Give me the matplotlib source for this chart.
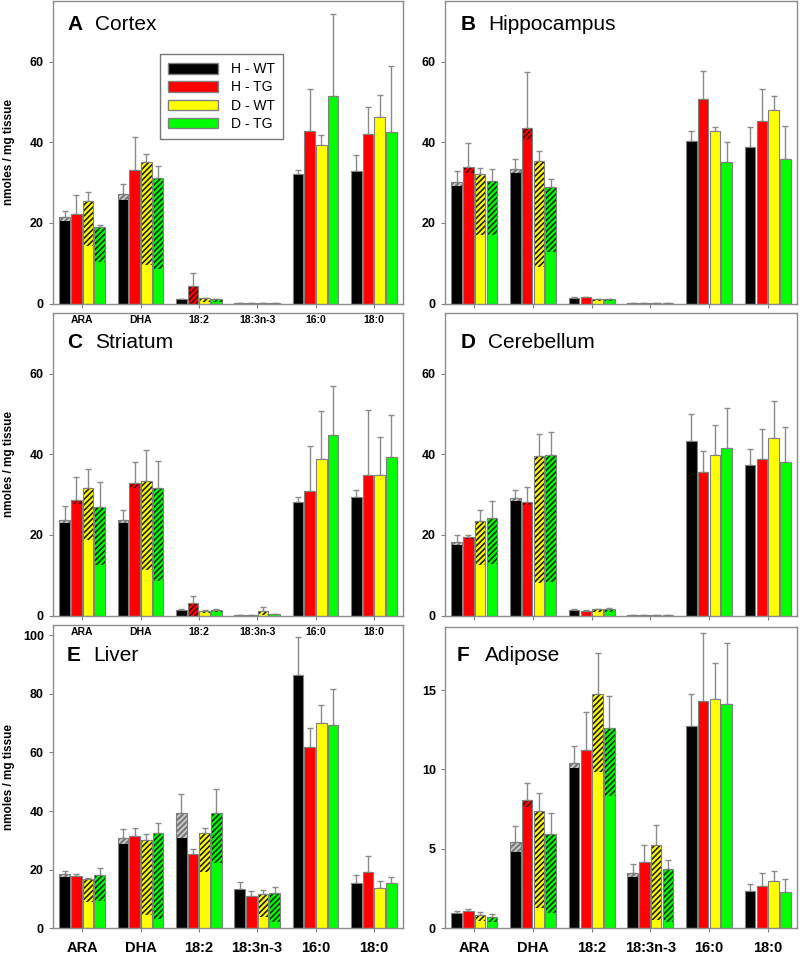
import numpy as np
import matplotlib
matplotlib.use("Agg")
import matplotlib.pyplot as plt
from matplotlib.patches import Patch

plt.rcParams['font.family'] = ['Liberation Sans', 'DejaVu Sans']
plt.rcParams['hatch.linewidth'] = 1.2

categories = ['ARA', 'DHA', '18:2', '18:3n-3', '16:0', '18:0']
groups = ['H - WT', 'H - TG', 'D - WT', 'D - TG']
colors = ['#000000', '#ff0000', '#ffff00', '#00ff00']
hatch_face = ['#7a7a7a', '#ff0000', '#ffff00', '#00ff00']
hatch_line = ['#d0d0d0', '#500000', '#202000', '#003000']

# rows = H-WT, H-TG, D-WT, D-TG ; "solid" = unhatched lower part of the bar
cortex_mean = [[21.5, 27.1, 1.1, 0.15, 32.2, 32.8],
               [22.2, 33.2, 4.4, 0.15, 42.7, 42.1],
               [25.4, 35.1, 1.3, 0.15, 39.3, 46.2],
               [19.0, 31.1, 1.1, 0.15, 51.4, 42.6]]
cortex_solid = [[20.4, 25.6, 1.1, 0.15, 32.2, 32.8],
                [22.2, 33.2, 0.0, 0.15, 42.7, 42.1],
                [14.2, 9.5, 0.4, 0.15, 39.3, 46.2],
                [10.4, 8.5, 0.4, 0.15, 51.4, 42.6]]
cortex_sd = [[1.4, 2.6, 0, 0, 0.8, 4.0],
             [4.8, 8.0, 3.2, 0, 10.4, 6.6],
             [2.2, 1.9, 0, 0, 2.4, 5.5],
             [0.4, 2.9, 0, 0, 20.3, 16.2]]

hippo_mean = [[30.2, 33.4, 1.4, 0.1, 40.2, 38.8],
              [33.9, 43.5, 1.5, 0.1, 50.7, 45.3],
              [32.0, 35.4, 1.0, 0.1, 42.7, 47.9],
              [30.3, 28.9, 1.0, 0.1, 35.1, 35.9]]
hippo_solid = [[29.1, 32.4, 1.4, 0.1, 40.2, 38.8],
               [32.3, 40.5, 1.5, 0.1, 50.7, 45.3],
               [17.1, 9.0, 0.5, 0.1, 42.7, 47.9],
               [17.1, 12.8, 0.5, 0.1, 35.1, 35.9]]
hippo_sd = [[2.6, 2.5, 0.1, 0, 2.5, 4.9],
            [5.8, 13.9, 0.1, 0, 6.9, 7.8],
            [1.5, 2.3, 0.1, 0, 1.0, 3.5],
            [3.0, 2.0, 0.1, 0, 5.0, 8.1]]

striatum_mean = [[23.8, 23.7, 1.4, 0.1, 28.2, 29.5],
                 [28.7, 32.8, 3.1, 0.1, 30.8, 34.9],
                 [31.5, 33.4, 1.1, 1.0, 38.9, 34.8],
                 [26.8, 31.7, 1.3, 0.3, 44.7, 39.4]]
striatum_solid = [[22.9, 22.9, 1.2, 0.1, 28.2, 29.5],
                  [27.7, 31.5, 0.0, 0.1, 30.8, 34.9],
                  [18.8, 11.3, 0.5, 0.2, 38.9, 34.8],
                  [12.6, 8.6, 0.8, 0.3, 44.7, 39.4]]
striatum_sd = [[3.4, 2.5, 0.2, 0, 1.1, 1.7],
               [5.6, 5.2, 1.8, 0, 11.2, 16.0],
               [4.9, 7.7, 0.2, 1.0, 11.8, 9.4],
               [6.2, 6.6, 0.2, 0, 12.2, 10.2]]

cereb_mean = [[18.1, 29.2, 1.4, 0.1, 43.2, 37.3],
              [19.4, 28.1, 1.2, 0.1, 35.6, 38.7],
              [23.4, 39.5, 1.6, 0.1, 39.8, 44.1],
              [24.1, 39.8, 1.7, 0.1, 41.5, 38.0]]
cereb_solid = [[17.5, 28.5, 1.4, 0.1, 43.2, 37.3],
               [19.0, 27.3, 1.2, 0.1, 35.6, 38.7],
               [12.6, 8.0, 0.8, 0.1, 39.8, 44.1],
               [12.8, 8.4, 0.8, 0.1, 41.5, 38.0]]
cereb_sd = [[1.8, 1.9, 0.1, 0, 6.8, 4.0],
            [0.6, 3.8, 0.1, 0, 5.2, 7.6],
            [2.8, 5.4, 0.1, 0, 7.4, 9.1],
            [4.2, 5.8, 0.2, 0, 9.9, 8.8]]

liver_mean = [[18.4, 30.8, 39.5, 13.5, 86.5, 15.6],
              [17.7, 31.6, 25.3, 11.0, 61.9, 19.3],
              [16.9, 30.2, 32.5, 11.6, 69.9, 13.6],
              [18.3, 32.4, 39.3, 11.9, 69.3, 15.3]]
liver_solid = [[17.6, 28.9, 30.8, 13.5, 86.5, 15.6],
               [17.7, 31.6, 25.3, 11.0, 61.9, 19.3],
               [9.0, 4.4, 19.3, 4.0, 69.9, 13.6],
               [9.4, 3.1, 22.3, 2.0, 69.3, 15.3]]
liver_sd = [[1.2, 3.2, 6.5, 2.4, 12.9, 2.6],
            [0.9, 2.6, 1.8, 1.8, 6.3, 5.4],
            [0.3, 2.0, 1.6, 1.5, 6.2, 2.7],
            [2.4, 3.6, 8.4, 2.2, 12.2, 2.3]]

adipose_mean = [[0.94, 5.41, 10.38, 3.46, 12.73, 2.35],
                [1.07, 8.07, 11.22, 4.15, 14.32, 2.66],
                [0.86, 7.38, 14.72, 5.24, 14.42, 2.98],
                [0.73, 5.95, 12.63, 3.71, 14.09, 2.31]]
adipose_solid = [[0.88, 4.82, 10.07, 3.21, 12.73, 2.35],
                 [1.07, 7.65, 11.22, 4.15, 14.32, 2.66],
                 [0.48, 1.26, 9.82, 0.52, 14.42, 2.98],
                 [0.42, 0.98, 8.33, 0.38, 14.09, 2.31]]
adipose_sd = [[0.15, 1.05, 1.09, 0.59, 2.01, 0.44],
              [0.13, 1.05, 2.41, 1.07, 4.28, 0.80],
              [0.17, 1.11, 2.62, 1.26, 2.29, 0.65],
              [0.17, 1.33, 2.01, 0.59, 3.88, 0.79]]

W, H = 800, 956
fig = plt.figure(figsize=(W / 100, H / 100), dpi=100)


def rect(l, r, t, b):
    return [l / W, 1 - b / H, (r - l) / W, (b - t) / H]


def panel(box, letter, name, mean, solid, sd, ymax, yticks, title_pos,
          xlabels=None, xsize=7.5, ylabel=False):
    ax = fig.add_axes(rect(*box))
    ax.set_facecolor('none')
    x = np.arange(len(categories))
    offsets = [-0.3, -0.1, 0.1, 0.3]
    w = 0.18
    for g in range(4):
        m = np.array(mean[g])
        s = np.array(solid[g])
        xs = x + offsets[g]
        ax.errorbar(xs, m, yerr=[np.zeros(6), sd[g]], fmt='none', ecolor='#8a8a8a',
                    elinewidth=1, capsize=2.5, capthick=1, zorder=1)
        ax.bar(xs, s, w, color=colors[g], edgecolor='none', linewidth=0, zorder=2)
        ax.bar(xs, m - s, w, bottom=s, color=hatch_face[g], edgecolor=hatch_line[g],
               linewidth=0, hatch='//////', zorder=2)
        ax.bar(xs, m, w, facecolor='none', edgecolor='#808080', linewidth=0.8, zorder=3)
    ax.set_xlim(-0.5, 5.5)
    ax.set_ylim(0, ymax)
    ax.set_yticks(yticks)
    ax.set_yticklabels([str(t) for t in yticks], fontsize=9, fontweight='bold')
    ax.set_xticks(x)
    if xlabels:
        ax.set_xticklabels(categories, fontsize=xsize, fontweight='bold')
    else:
        ax.set_xticklabels([])
    ax.tick_params(axis='both', direction='out', length=3, color='#808080', width=0.8)
    ax.tick_params(axis='x', pad=5 if xsize < 9 else 6)
    for sp in ax.spines.values():
        sp.set_color('#8c8c8c')
        sp.set_linewidth(1)
    ax.text(title_pos[0], title_pos[2], letter, transform=ax.transAxes,
            fontsize=15, fontweight='bold', va='top')
    ax.text(title_pos[1], title_pos[2], name, transform=ax.transAxes,
            fontsize=15, va='top')
    if ylabel:
        ax.set_ylabel('nmoles / mg tissue', fontsize=8.5, fontweight='bold')
        ax.yaxis.set_label_coords(-0.108, 0.5)
    return ax


axA = panel((53, 403, 1, 303.5), 'A', 'Cortex', cortex_mean, cortex_solid, cortex_sd,
            75, [0, 20, 40, 60], (0.04, 0.12, 0.955), xlabels=True, ylabel=True)
panel((445, 797, 1, 303.5), 'B', 'Hippocampus', hippo_mean, hippo_solid, hippo_sd,
      75, [0, 20, 40, 60], (0.043, 0.122, 0.955))
panel((53, 403, 313, 615.5), 'C', 'Striatum', striatum_mean, striatum_solid, striatum_sd,
      75, [0, 20, 40, 60], (0.04, 0.12, 0.935), xlabels=True, ylabel=True)
panel((445, 797, 313, 615.5), 'D', 'Cerebellum', cereb_mean, cereb_solid, cereb_sd,
      75, [0, 20, 40, 60], (0.043, 0.122, 0.935))
panel((53, 403, 625, 928.3), 'E', 'Liver', liver_mean, liver_solid, liver_sd,
      103.5, [0, 20, 40, 60, 80, 100], (0.04, 0.115, 0.93), xlabels=True, xsize=10.5,
      ylabel=True)
panel((445, 797, 626.5, 928.3), 'F', 'Adipose', adipose_mean, adipose_solid, adipose_sd,
      19, [0, 5, 10, 15], (0.034, 0.114, 0.937), xlabels=True, xsize=10.5)

handles = [Patch(facecolor=c, edgecolor='#808080') for c in colors]
leg = axA.legend(handles, groups, loc='upper left', bbox_to_anchor=(0.286, 0.848),
                 frameon=True, fancybox=False, fontsize=10, handlelength=3.6,
                 handleheight=0.75, labelspacing=0.3, borderpad=0.6, handletextpad=0.9)
leg.get_frame().set_edgecolor('#555555')
leg.get_frame().set_linewidth(1)

fig.savefig('out.png', dpi=100, facecolor='white')
